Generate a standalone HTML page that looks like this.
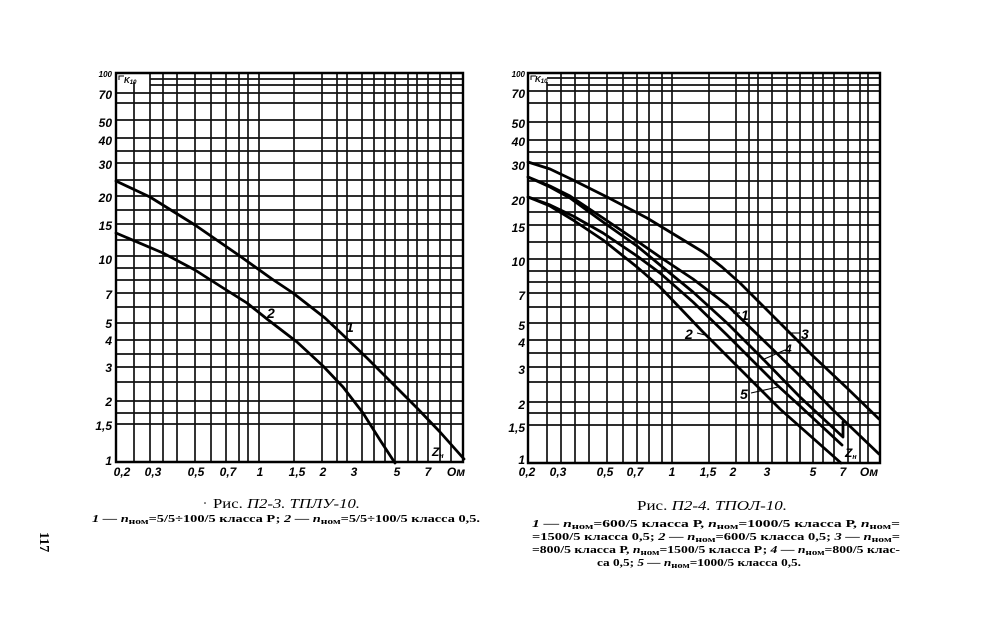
<!DOCTYPE html>
<html><head><meta charset="utf-8">
<style>
html,body{margin:0;padding:0;background:#fff;}
svg{display:block;}
.g{stroke:#111;stroke-width:1.7;fill:none;}
.b{stroke:#000;stroke-width:2.4;fill:none;}
.c{stroke:#000;stroke-width:2.8;fill:none;stroke-linejoin:round;stroke-linecap:round;}
.t{font-family:"Liberation Sans",sans-serif;font-weight:bold;font-style:italic;font-size:12px;fill:#000;}
.s{font-family:"Liberation Serif","Noto Serif CJK SC",serif;fill:#000;}
.l{font-family:"Liberation Serif",serif;font-weight:bold;font-size:10px;fill:#000;}
</style></head>
<body>
<svg width="983" height="628" viewBox="0 0 983 628" xmlns="http://www.w3.org/2000/svg">
<rect width="983" height="628" fill="#fff"/>

<!-- LEFT CHART GRID -->
<g class="g">
<path d="M134 82V462 M150 73V462 M163 73V462 M177 73V462 M195 73V462 M211 73V462 M226 73V462 M239 73V462 M248 73V462 M259 73V462 M294 73V462 M322 73V462 M337 73V462 M347 73V462 M362 73V462 M374 73V462 M385 73V462 M395 73V462 M408 73V462 M417 73V462 M428 73V462 M440 73V462 M451 73V462"/>
<path d="M150 79H463 M150 85H463 M116 93H463 M116 103H463 M116 120H463 M116 138H463 M116 151H463 M116 163H463 M116 180H463 M116 196H463 M116 210H463 M116 224H463 M116 240H463 M116 256H463 M116 268H463 M116 280H463 M116 293H463 M116 307H463 M116 323H463 M116 340H463 M116 354H463 M116 367H463 M116 382H463 M116 401H463 M116 413H463 M116 424H463"/>
</g>
<path class="b" d="M116 73H463V462H116Z"/>

<!-- LEFT CURVES -->
<polyline class="c" points="116,181 150,197 195,225 237,254 272,279 293,293 325,318 343,335 367,358 392,383 417,408 440,432 464,459"/>
<polyline class="c" points="116,233 163,253 195,270 220,286 247,303 267,319 297,342 323,366 343,387 363,413 380,440 395,463"/>

<!-- LEFT LABELS -->
<g class="t" text-anchor="end">
<text x="112" y="77" style="font-size:8px">100</text>
<text x="112" y="99">70</text>
<text x="112" y="127">50</text>
<text x="112" y="145">40</text>
<text x="112" y="169">30</text>
<text x="112" y="202">20</text>
<text x="112" y="230">15</text>
<text x="112" y="264">10</text>
<text x="112" y="299">7</text>
<text x="112" y="328">5</text>
<text x="112" y="345">4</text>
<text x="112" y="372">3</text>
<text x="112" y="406">2</text>
<text x="112" y="430">1,5</text>
<text x="112" y="465">1</text>
</g>
<text class="t" x="124" y="83" style="font-size:8px">K<tspan style="font-size:6px" dy="1">10</tspan></text>
<path d="M119 80V76H124" stroke="#000" stroke-width="1" fill="none"/>
<g class="t" text-anchor="middle">
<text x="122" y="476">0,2</text>
<text x="153" y="476">0,3</text>
<text x="196" y="476">0,5</text>
<text x="228" y="476">0,7</text>
<text x="260" y="476">1</text>
<text x="297" y="476">1,5</text>
<text x="323" y="476">2</text>
<text x="354" y="476">3</text>
<text x="397" y="476">5</text>
<text x="428" y="476">7</text>
<text x="456" y="476">Ом</text>
</g>
<g class="t">
<text x="267" y="318" style="font-size:14px">2</text>
<text x="346" y="332" style="font-size:14px">1</text>
<text x="432" y="456" style="font-size:12px">Z<tspan style="font-size:7px" dy="2">н</tspan></text>
</g>

<!-- RIGHT CHART GRID -->
<g class="g">
<path d="M547 82V463 M561 73V463 M575 73V463 M589 73V463 M607 73V463 M623 73V463 M637 73V463 M649 73V463 M662 73V463 M672 73V463 M709 73V463 M736 73V463 M749 73V463 M758 73V463 M772 73V463 M787 73V463 M800 73V463 M813 73V463 M823 73V463 M834 73V463 M848 73V463 M860 73V463 M868 73V463"/>
<path d="M547 78H880 M547 85H880 M528 91H880 M528 103H880 M528 122H880 M528 140H880 M528 152H880 M528 163H880 M528 181H880 M528 198H880 M528 212H880 M528 225H880 M528 242H880 M528 259H880 M528 271H880 M528 282H880 M528 293H880 M528 307H880 M528 323H880 M528 340H880 M528 353H880 M528 367H880 M528 382H880 M528 402H880 M528 413H880 M528 425H880"/>
</g>
<path class="b" d="M528 73H880V463H528Z"/>

<!-- RIGHT CURVES -->
<polyline class="c" points="528,162 550,169 573,180 607,197 647,218 680,238 703,252 722,267 740,283 773,316 813,356 847,388 879,419"/>
<polyline class="c" points="528,177 550,186 570,196 603,218 637,241 660,257 693,279 727,305 760,337 797,373 833,410 879,454"/>
<polyline class="c" points="528,177 550,187 570,198 603,222 637,246 660,265 693,292 727,323 760,356 800,397 843,437 843,422"/>
<polyline class="c" points="528,197 550,205 573,216 603,233 637,256 660,273 693,302 727,335 760,368 777,385 800,406 842,445"/>
<polyline class="c" points="528,197 550,206 573,220 603,240 637,267 660,287 702,331 740,369 780,409 841,463"/>

<!-- RIGHT LABELS -->
<g class="t" text-anchor="end">
<text x="525" y="77" style="font-size:8px">100</text>
<text x="525" y="98">70</text>
<text x="525" y="128">50</text>
<text x="525" y="146">40</text>
<text x="525" y="170">30</text>
<text x="525" y="205">20</text>
<text x="525" y="232">15</text>
<text x="525" y="266">10</text>
<text x="525" y="300">7</text>
<text x="525" y="330">5</text>
<text x="525" y="347">4</text>
<text x="525" y="374">3</text>
<text x="525" y="409">2</text>
<text x="525" y="432">1,5</text>
<text x="525" y="464">1</text>
</g>
<text class="t" x="535" y="82" style="font-size:8px">K<tspan style="font-size:6px" dy="1">10</tspan></text>
<path d="M531 80V76H536" stroke="#000" stroke-width="1" fill="none"/>
<g class="t" text-anchor="middle">
<text x="527" y="476">0,2</text>
<text x="558" y="476">0,3</text>
<text x="605" y="476">0,5</text>
<text x="635" y="476">0,7</text>
<text x="672" y="476">1</text>
<text x="708" y="476">1,5</text>
<text x="733" y="476">2</text>
<text x="767" y="476">3</text>
<text x="813" y="476">5</text>
<text x="843" y="476">7</text>
<text x="869" y="476">Ом</text>
</g>
<g stroke="#000" stroke-width="1.1" fill="none">
<path d="M733 313H740"/>
<path d="M697 333L705 335"/>
<path d="M788 333H800"/>
<path d="M762 360L785 350"/>
<path d="M751 393L778 387"/>
</g>
<g class="t">
<text x="741" y="320" style="font-size:14px">1</text>
<text x="685" y="339" style="font-size:14px">2</text>
<text x="801" y="339" style="font-size:14px">3</text>
<text x="785" y="353" style="font-size:12px">4</text>
<text x="740" y="399" style="font-size:14px">5</text>
<text x="845" y="457" style="font-size:12px">Z<tspan style="font-size:7px" dy="2">н</tspan></text>
</g>

<!-- CAPTIONS -->
<circle cx="205" cy="503" r="0.8" fill="#000"/>
<text class="s" x="213" y="508" font-size="14" textLength="147" lengthAdjust="spacingAndGlyphs">Рис. <tspan font-style="italic">П2-3. ТПЛУ-10.</tspan></text>
<text class="l" x="92" y="522" textLength="388" lengthAdjust="spacingAndGlyphs"><tspan font-style="italic">1 — n</tspan><tspan style="font-size:8px" dy="2">ном</tspan><tspan dy="-2">=5/5÷100/5  класса  Р;  </tspan><tspan font-style="italic">2 — n</tspan><tspan style="font-size:8px" dy="2">ном</tspan><tspan dy="-2">=5/5÷100/5  класса  0,5.</tspan></text>

<text class="s" x="637" y="510" font-size="14" textLength="150" lengthAdjust="spacingAndGlyphs">Рис. <tspan font-style="italic">П2-4. ТПОЛ-10.</tspan></text>
<text class="l" x="532" y="527" textLength="368" lengthAdjust="spacingAndGlyphs"><tspan font-style="italic">1 — n</tspan><tspan style="font-size:8px" dy="2">ном</tspan><tspan dy="-2">=600/5   класса   Р,   </tspan><tspan font-style="italic">n</tspan><tspan style="font-size:8px" dy="2">ном</tspan><tspan dy="-2">=1000/5   класса   Р,   </tspan><tspan font-style="italic">n</tspan><tspan style="font-size:8px" dy="2">ном</tspan><tspan dy="-2">=</tspan></text>
<text class="l" x="532" y="540" textLength="368" lengthAdjust="spacingAndGlyphs"><tspan>=1500/5  класса  0,5;  </tspan><tspan font-style="italic">2 — n</tspan><tspan style="font-size:8px" dy="2">ном</tspan><tspan dy="-2">=600/5  класса  0,5;  </tspan><tspan font-style="italic">3 — n</tspan><tspan style="font-size:8px" dy="2">ном</tspan><tspan dy="-2">=</tspan></text>
<text class="l" x="532" y="553" textLength="368" lengthAdjust="spacingAndGlyphs"><tspan>=800/5 класса Р, </tspan><tspan font-style="italic">n</tspan><tspan style="font-size:8px" dy="2">ном</tspan><tspan dy="-2">=1500/5 класса Р; </tspan><tspan font-style="italic">4 — n</tspan><tspan style="font-size:8px" dy="2">ном</tspan><tspan dy="-2">=800/5 клас-</tspan></text>
<text class="l" x="597" y="566" textLength="204" lengthAdjust="spacingAndGlyphs"><tspan>са 0,5; </tspan><tspan font-style="italic">5 — n</tspan><tspan style="font-size:8px" dy="2">ном</tspan><tspan dy="-2">=1000/5 класса 0,5.</tspan></text>

<!-- page number -->
<text class="s" x="0" y="0" font-size="14" font-weight="bold" transform="translate(40,532) rotate(90)">117</text>
</svg>
</body></html>
